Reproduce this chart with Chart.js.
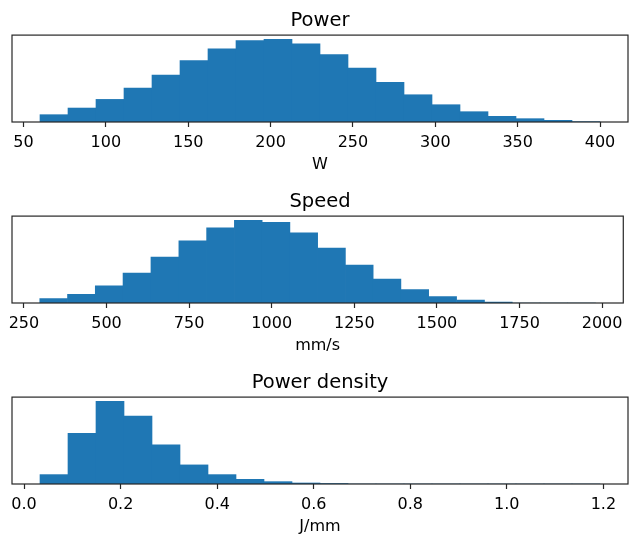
<!DOCTYPE html>
<html>
<head>
<meta charset="utf-8">
<script src="https://cdn.jsdelivr.net/npm/chart.js@4.4.1/dist/chart.umd.min.js"></script>
<style>
  html, body { margin: 0; padding: 0; background: #fff; overflow: hidden; }
  body { width: 629px; height: 535px; position: relative; }
  .panel { position: absolute; left: 0; width: 629px; height: 180px; }
</style>
</head>
<body>
<div class="panel" style="top:0px"><canvas id="powerChart"></canvas></div>
<div class="panel" style="top:181px"><canvas id="speedChart"></canvas></div>
<div class="panel" style="top:362px"><canvas id="densityChart"></canvas></div>
<script>
//--------------------------//
//--|datos_de_histogramas|--//
//--------------------------//
const powerEdges = [60, 77, 94, 111, 128, 145, 162, 179, 196, 213, 230, 247, 264, 281, 298, 315, 332, 349, 366, 383, 400];
const powerCounts = [22, 42, 68, 102, 141, 185, 220, 245, 249, 235, 203, 162, 119, 82, 52, 31, 17, 10, 5, 1];
const powerTicks = [50, 100, 150, 200, 250, 300, 350, 400];

const speedEdges = [298, 382, 466, 550, 634, 719, 803, 887, 971, 1055, 1139, 1223, 1307, 1391, 1475, 1560, 1644, 1728, 1812, 1896, 1980];
const speedCounts = [13, 26, 52, 90, 138, 187, 226, 249, 243, 211, 165, 114, 72, 40, 19, 9, 3, 0, 0, 0];
const speedTicks = [250, 500, 750, 1000, 1250, 1500, 1750, 2000];

const densityEdges = [0.033, 0.091, 0.149, 0.207, 0.265, 0.323, 0.381, 0.439, 0.497, 0.555, 0.613, 0.671, 0.729, 0.787, 0.845, 0.903, 0.961, 1.019, 1.077, 1.135, 1.193];
const densityCounts = [28, 151, 247, 203, 117, 57, 28, 14, 7, 3, 1.5, 0, 0, 0, 0, 0, 0, 0, 0, 0];
const densityTicks = [0.0, 0.2, 0.4, 0.6, 0.8, 1.0, 1.2];

//-----------------------//
//--|marco_de_los_ejes|--//
//-----------------------//
const framePlugin = {
    id: "frame",
    afterDatasetsDraw(chart) {
        const a = chart.chartArea;
        const ctx = chart.ctx;
        ctx.save();
        ctx.strokeStyle = "#262626";
        ctx.lineWidth = 1.2;
        ctx.strokeRect(a.left, a.top, a.right - a.left, a.bottom - a.top);
        ctx.restore();
    }
};

function crearHistograma(id, titulo, etiqueta, edges, counts, ticks, decimales) {
    const puntos = counts.map((c, i) => ({ x: (edges[i] + edges[i + 1]) / 2, y: c }));
    const span = edges[edges.length - 1] - edges[0];
    const xmin = edges[0] - span * 0.05;
    const xmax = edges[edges.length - 1] + span * 0.05;
    const ymax = Math.max(...counts) * 1.05;
    new Chart(document.getElementById(id), {
        type: "bar",
        data: {
            datasets: [{
                data: puntos,
                backgroundColor: "#1f77b4",
                borderWidth: 0,
                barPercentage: 1,
                categoryPercentage: 1
            }]
        },
        options: {
            responsive: true,
            maintainAspectRatio: false,
            animation: false,
            events: [],
            layout: { padding: { left: 12, right: 1, top: 0, bottom: 0 } },
            plugins: {
                legend: { display: false },
                tooltip: { enabled: false },
                title: {
                    display: true,
                    text: titulo,
                    color: "#000",
                    font: { family: "DejaVu Sans", size: 19.5, weight: "normal" },
                    padding: { top: 9.3, bottom: 2.4 }
                }
            },
            scales: {
                x: {
                    type: "linear",
                    min: xmin,
                    max: xmax,
                    offset: false,
                    afterBuildTicks: axis => {
                        axis.ticks = ticks.map(v => ({ value: v }));
                    },
                    afterFit: axis => { axis.height = 58; },
                    grid: {
                        offset: false,
                        drawOnChartArea: false,
                        drawTicks: true,
                        tickLength: 5,
                        tickWidth: 1.2,
                        color: "#262626"
                    },
                    border: { display: false },
                    ticks: {
                        color: "#000",
                        padding: 6.5,
                        maxRotation: 0,
                        autoSkip: false,
                        font: { family: "DejaVu Sans", size: 16 },
                        callback: v => decimales ? v.toFixed(decimales) : String(v)
                    },
                    title: {
                        display: true,
                        text: etiqueta,
                        color: "#000",
                        font: { family: "DejaVu Sans", size: 16 },
                        padding: { top: 0, bottom: 5.8 }
                    }
                },
                y: {
                    display: false,
                    min: 0,
                    max: ymax
                }
            }
        },
        plugins: [framePlugin]
    });
}

crearHistograma("powerChart", "Power", "W", powerEdges, powerCounts, powerTicks, 0);
crearHistograma("speedChart", "Speed", "mm/s", speedEdges, speedCounts, speedTicks, 0);
crearHistograma("densityChart", "Power density", "J/mm", densityEdges, densityCounts, densityTicks, 1);
</script>
</body>
</html>
